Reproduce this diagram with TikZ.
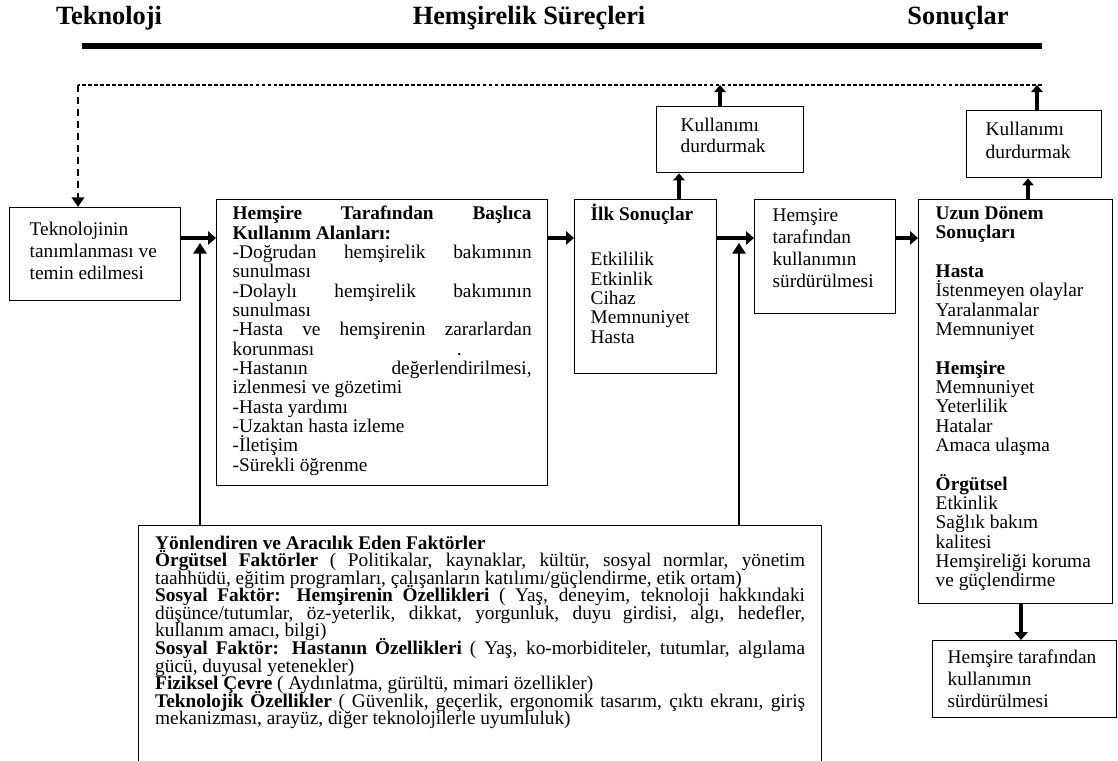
\documentclass[tikz,border=0pt]{standalone}
\usepackage{fontspec}
\setmainfont{Liberation Serif}
\usetikzlibrary{arrows.meta,positioning}

\newcommand{\boxtext}[4]{\parbox[t][#2][t]{#1}{\fontsize{11}{#3}\selectfont\lineskiplimit=-20pt #4}}

\tikzset{
  pbox/.style={rectangle, draw, line width=0.8pt, anchor=north west},
  head/.style={font=\fontsize{15}{15}\selectfont\bfseries, anchor=base, inner sep=0pt},
  flow/.style={line width=2.8pt, -{Triangle[length=4.5pt,width=7.5pt]}},
  stopflow/.style={line width=2.4pt, -{Triangle[length=4pt,width=6.5pt]}},
  factorflow/.style={line width=1.1pt, -{Triangle[length=6pt,width=7.5pt]}},
  dashline/.style={line width=1.2pt, dash pattern=on 2.2pt off 1.2pt},
  dashdrop/.style={line width=1.4pt, dash pattern=on 4pt off 2.8pt, -{Triangle[length=5.5pt,width=7pt]}}
}

\begin{document}
\begin{tikzpicture}[x=0.02cm, y=-0.02cm]
    \useasboundingbox (0,0) rectangle (1118,760);

    \node[head] (htech) at (109,25) {Teknoloji};
    \node[head] (hproc) at (529,25) {Hemşirelik Süreçleri};
    \node[head] (hres) at (958,25) {Sonuçlar};
    \coordinate (ruleL) at (82,46);
    \coordinate (ruleR) at (1042,46);
    \draw[line width=3.7pt] (ruleL) -- (ruleR);

    \node[pbox, inner xsep=0.40cm, inner ysep=0.28cm] (tech) at (9,207)
        {\boxtext{2.62cm}{1.30cm}{12.5pt}{Teknolojinin\\ tanımlanması ve\\ temin edilmesi}};
    \node[pbox, inner xsep=0.32cm, inner ysep=0.13cm] (uses) at (216,199)
        {\boxtext{5.98cm}{5.46cm}{11pt}{\textbf{Hemşire Tarafından Başlıca}\linebreak
        \textbf{Kullanım Alanları:}\\
        -Doğrudan hemşirelik bakımının\linebreak
        sunulması\\
        -Dolaylı hemşirelik bakımının\linebreak
        sunulması\\
        -Hasta ve hemşirenin zararlardan\linebreak
        korunması\hspace{2.85cm}.\\
        -Hastanın değerlendirilmesi,\linebreak
        izlenmesi ve gözetimi\\
        -Hasta yardımı\\
        -Uzaktan hasta izleme\\
        -İletişim\\
        -Sürekli öğrenme}};
    \node[pbox, inner xsep=0.32cm, inner ysep=0.08cm] (first) at (574,199)
        {\boxtext{2.20cm}{3.32cm}{11pt}{\textbf{İlk Sonuçlar}\\[15pt]
        Etkililik\\ Etkinlik\\ Cihaz\\ Memnuniyet\\ Hasta}};
    \node[pbox, inner xsep=0.48cm, inner ysep=0.23cm] (stop1) at (656,106)
        {\boxtext{1.98cm}{0.86cm}{12pt}{Kullanımı\\ durdurmak}};
    \node[pbox, inner xsep=0.36cm, inner ysep=0.19cm] (keep) at (754,199)
        {\boxtext{2.10cm}{1.90cm}{12.5pt}{Hemşire\\ tarafından\\ kullanımın\\ sürdürülmesi}};
    \node[pbox, inner xsep=0.34cm, inner ysep=0.14cm] (longterm) at (918,199)
        {\boxtext{3.20cm}{7.80cm}{11pt}{\textbf{Uzun Dönem}\\ \textbf{Sonuçları}\\[11pt]
        \textbf{Hasta}\\ İstenmeyen olaylar\\ Yaralanmalar\\ Memnuniyet\\[11pt]
        \textbf{Hemşire}\\ Memnuniyet\\ Yeterlilik\\ Hatalar\\ Amaca ulaşma\\[11pt]
        \textbf{Örgütsel}\\ Etkinlik\\ Sağlık bakım\\ kalitesi\\ Hemşireliği koruma\\ ve güçlendirme}};
    \node[pbox, inner xsep=0.38cm, inner ysep=0.23cm] (stop2) at (966,110)
        {\boxtext{1.94cm}{0.88cm}{13pt}{Kullanımı\\ durdurmak}};
    \node[pbox, inner xsep=0.30cm, inner ysep=0.19cm] (keep2) at (932,640)
        {\boxtext{3.08cm}{1.16cm}{12.5pt}{Hemşire tarafından\\ kullanımın\\ sürdürülmesi}};
    \node[pbox, inner xsep=0.33cm, inner ysep=0.20cm] (factors) at (138,525)
        {\boxtext{13.00cm}{4.36cm}{10pt}{\textbf{Yönlendiren ve Aracılık Eden Faktörler}\\
        \textbf{Örgütsel Faktörler} ( Politikalar, kaynaklar, kültür, sosyal normlar, yönetim\linebreak
        taahhüdü, eğitim programları, çalışanların katılımı/güçlendirme, etik ortam)\\
        \textbf{Sosyal Faktör: Hemşirenin Özellikleri} ( Yaş, deneyim, teknoloji hakkındaki\linebreak
        düşünce/tutumlar, öz-yeterlik, dikkat, yorgunluk, duyu girdisi, algı, hedefler,\linebreak
        kullanım amacı, bilgi)\\
        \textbf{Sosyal Faktör: Hastanın Özellikleri} ( Yaş, ko-morbiditeler, tutumlar, algılama\linebreak
        gücü, duyusal yetenekler)\\
        \textbf{Fiziksel Çevre} ( Aydınlatma, gürültü, mimari özellikler)\\
        \textbf{Teknolojik Özellikler} ( Güvenlik, geçerlik, ergonomik tasarım, çıktı ekranı, giriş\linebreak
        mekanizması, arayüz, diğer teknolojilerle uyumluluk)}};

    \coordinate (row) at (0,238);
    \draw[flow] (tech.east |- row) -- (uses.west |- row);
    \draw[flow] (uses.east |- row) -- (first.west |- row);
    \draw[flow] (first.east |- row) -- (keep.west |- row);
    \draw[flow] (keep.east |- row) -- (longterm.west |- row);

    \coordinate (j1) at (200,243);
    \coordinate (j2) at (739,243);
    \draw[factorflow] (factors.north -| j1) -- (j1);
    \draw[factorflow] (factors.north -| j2) -- (j2);

    \coordinate (s1) at (679,0);
    \coordinate (s2) at (1028,0);
    \coordinate (s3) at (1021,0);
    \draw[stopflow] (first.north -| s1) -- (stop1.south -| s1);
    \draw[stopflow] (longterm.north -| s2) -- (stop2.south -| s2);
    \draw[flow] (longterm.south -| s3) -- (keep2.north -| s3);

    \coordinate (dl) at (78,85);
    \coordinate (dr) at (1042,85);
    \coordinate (d1) at (720,85);
    \coordinate (d2) at (1037,85);
    \draw[stopflow] (stop1.north -| d1) -- (d1);
    \draw[stopflow] (stop2.north -| d2) -- (d2);
    \draw[dashline] (dr) -- (dl);
    \draw[dashdrop] (dl) -- (tech.north -| dl);
\end{tikzpicture}
\end{document}
